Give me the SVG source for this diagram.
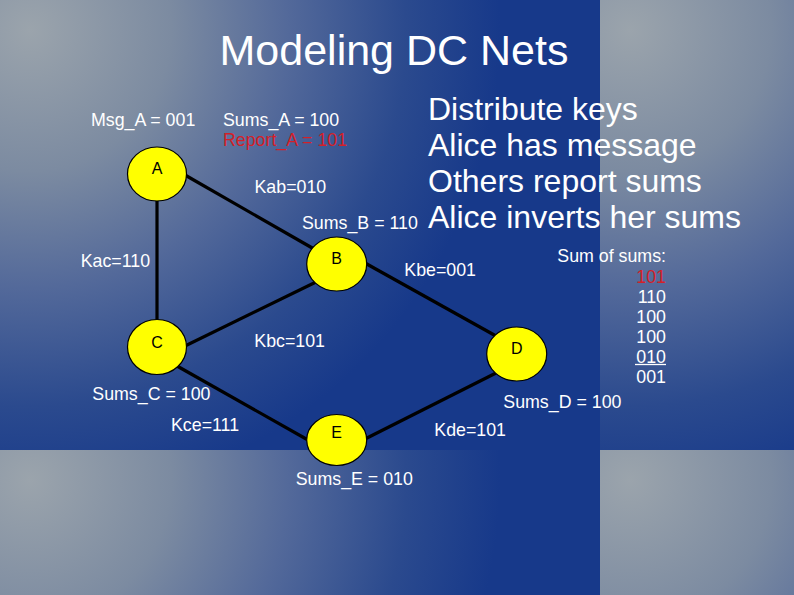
<svg xmlns="http://www.w3.org/2000/svg" width="794" height="595" viewBox="0 0 794 595">
<defs>
<radialGradient id="g" gradientUnits="userSpaceOnUse" cx="30" cy="30" r="470">
<stop offset="0" stop-color="#9ba4ac"/>
<stop offset="0.3" stop-color="#7c8ba1"/>
<stop offset="0.55" stop-color="#53699a"/>
<stop offset="0.8" stop-color="#2b4a8e"/>
<stop offset="1" stop-color="#17398a"/>
</radialGradient>
<pattern id="bg" patternUnits="userSpaceOnUse" x="0" y="0" width="600" height="450">
<rect width="600" height="450" fill="url(#g)"/>
</pattern>
<style>
.t{font-family:"Liberation Sans",Arial,sans-serif;fill:#fff;font-size:17.8px}
.r{fill:#d42028}
.b{font-family:"Liberation Sans",Arial,sans-serif;fill:#fff;font-size:32px}
.n ellipse{fill:#ffff00;stroke:#000;stroke-width:1.2}
.n text{font-family:"Liberation Sans",Arial,sans-serif;fill:#000;font-size:16px;text-anchor:middle}
.e line{stroke:#000;stroke-width:3.2}
.ra{text-anchor:end}
</style>
</defs>
<rect width="794" height="595" fill="url(#bg)"/>
<text class="t" x="394" y="64.5" text-anchor="middle" style="font-size:43px">Modeling DC Nets</text>
<g id="bullets">
<text class="b" x="428" y="120">Distribute keys</text>
<text class="b" x="428" y="156">Alice has message</text>
<text class="b" x="428" y="192">Others report sums</text>
<text class="b" x="428" y="228">Alice inverts her sums</text>
</g>
<g id="connectors" class="e">
<line x1="185" y1="175" x2="314" y2="249"/>
<line x1="157" y1="200" x2="157" y2="321"/>
<line x1="316" y1="282" x2="185" y2="346"/>
<line x1="365" y1="263" x2="496" y2="336"/>
<line x1="177" y1="366" x2="308" y2="440"/>
<line x1="365" y1="439" x2="496" y2="373"/>
</g>
<g id="node-A" class="n"><ellipse cx="157" cy="174" rx="29.5" ry="27"/><text x="157" y="174">A</text></g>
<g id="node-B" class="n"><ellipse cx="336.7" cy="264" rx="30" ry="27"/><text x="336.7" y="264">B</text></g>
<g id="node-C" class="n"><ellipse cx="157" cy="347" rx="29.5" ry="27.5"/><text x="157" y="348">C</text></g>
<g id="node-D" class="n"><ellipse cx="516.7" cy="354" rx="30" ry="27"/><text x="516.7" y="354">D</text></g>
<g id="node-E" class="n"><ellipse cx="336.7" cy="440" rx="30" ry="25.5"/><text x="336.7" y="437.5">E</text></g>
<g id="labels">
<text class="t" x="91" y="126">Msg_A = 001</text>
<text class="t" x="223" y="126">Sums_A = 100</text>
<text class="t r" x="223" y="145.5">Report_A = 101</text>
<text class="t" x="254.5" y="193.3">Kab=010</text>
<text class="t" x="302" y="229.3">Sums_B = 110</text>
<text class="t" x="80.7" y="267.3">Kac=110</text>
<text class="t" x="404.3" y="275.7">Kbe=001</text>
<text class="t" x="254.3" y="346.7">Kbc=101</text>
<text class="t" x="92.3" y="400">Sums_C = 100</text>
<text class="t" x="171" y="430.7">Kce=111</text>
<text class="t" x="295.7" y="485">Sums_E = 010</text>
<text class="t" x="503.3" y="408.3">Sums_D = 100</text>
<text class="t" x="434.3" y="435.7">Kde=101</text>
</g>
<g id="sums">
<text class="t ra" x="666" y="262.3">Sum of sums:</text>
<text class="t ra r" x="666" y="282.7">101</text>
<text class="t ra" x="666" y="302.7">110</text>
<text class="t ra" x="666" y="322.7">100</text>
<text class="t ra" x="666" y="342.7">100</text>
<text class="t ra" x="666" y="362.7">010</text>
<line x1="635" y1="364.5" x2="666" y2="364.5" stroke="#fff" stroke-width="1.3"/>
<text class="t ra" x="666" y="382.7">001</text>
</g>
</svg>
